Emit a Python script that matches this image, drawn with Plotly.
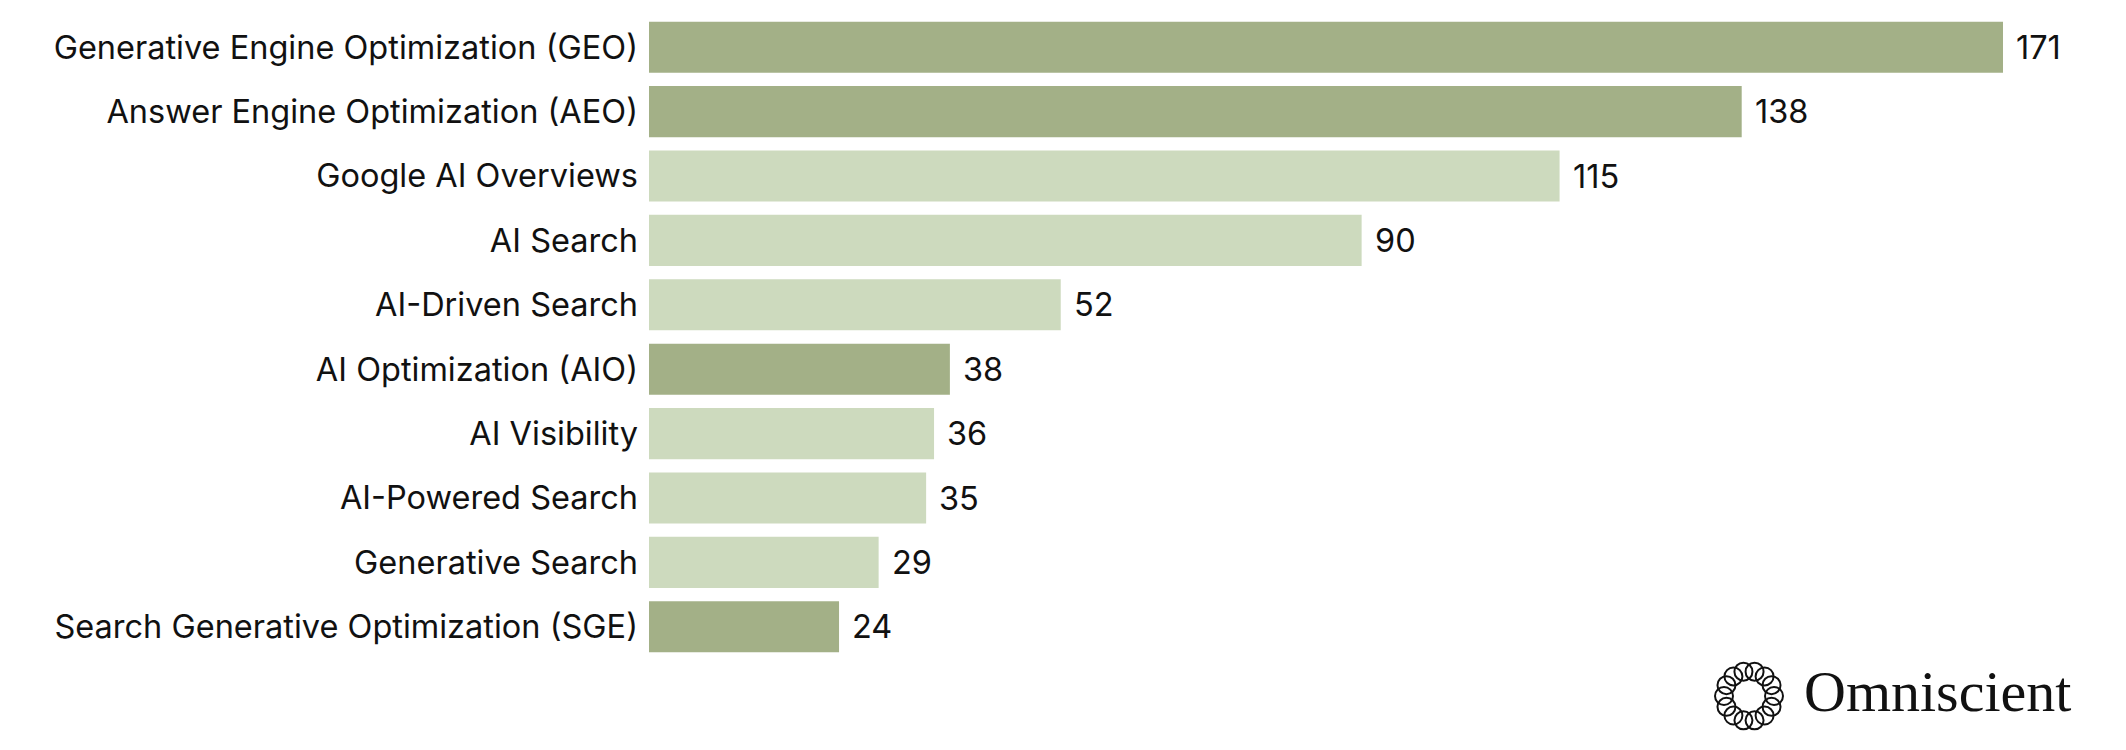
import plotly.graph_objects as go
import math

categories = [
    "Generative Engine Optimization (GEO)",
    "Answer Engine Optimization (AEO)",
    "Google AI Overviews",
    "AI Search",
    "AI-Driven Search",
    "AI Optimization (AIO)",
    "AI Visibility",
    "AI-Powered Search",
    "Generative Search",
    "Search Generative Optimization (SGE)",
]
values = [171, 138, 115, 90, 52, 38, 36, 35, 29, 24]
highlight = [True, True, False, False, False, True, False, False, False, True]

DARK = "#a3b087"
LIGHT = "#cddabe"
colors = [DARK if h else LIGHT for h in highlight]

fig = go.Figure()
fig.add_trace(go.Bar(
    x=values, y=categories, orientation="h",
    marker=dict(color=colors, line=dict(width=0)),
    hoverinfo="skip",
))

for c, v in zip(categories, values):
    fig.add_annotation(x=v, y=c, text=str(v), showarrow=False,
                       xanchor="left", yanchor="middle", xshift=11,
                       font=dict(family="Inter", size=32.5, color="#111111"))

W, H = 2126, 750
# page offset from default body margin (8px)
OFF = 8
PL, PR, PT, PB = 649, 2003, 15, 659   # plot area in page pixels
fig.update_layout(
    width=W, height=H,
    margin=dict(l=PL - OFF, r=W - (PL - OFF) - (PR - PL),
                t=PT - OFF, b=H - (PT - OFF) - (PB - PT)),
    paper_bgcolor="white", plot_bgcolor="white",
    bargap=0.207,
    showlegend=False,
    font=dict(family="Inter", size=32.5, color="#111111"),
)
fig.update_xaxes(range=[0, 171], showgrid=False, zeroline=False,
                 showticklabels=False, showline=False)
fig.update_yaxes(autorange="reversed", showgrid=False, zeroline=False,
                 showline=False, ticks="", ticklabelstandoff=10,
                 tickfont=dict(family="Inter", size=32.5, color="#111111"))

def px(x):
    return (x - PL) / (PR - PL)
def py(y):
    return (PB - y) / (PB - PT)

# Logo icon
cx, cy = 1749, 696
n = 14
R = 25
r = 9
for i in range(n):
    a = 2 * math.pi * i / n
    x0 = cx + R * math.cos(a)
    y0 = cy + R * math.sin(a)
    fig.add_shape(type="circle", xref="paper", yref="paper",
                  x0=px(x0 - r), x1=px(x0 + r), y0=py(y0 + r), y1=py(y0 - r),
                  line=dict(color="#111111", width=2), fillcolor="rgba(0,0,0,0)")
fig.add_annotation(xref="paper", yref="paper", x=px(1802), y=py(691),
                   xanchor="left", yanchor="middle", showarrow=False,
                   text="Omniscient",
                   font=dict(family="Liberation Serif", size=58, color="#111111"))

fig.write_html("out.html")
